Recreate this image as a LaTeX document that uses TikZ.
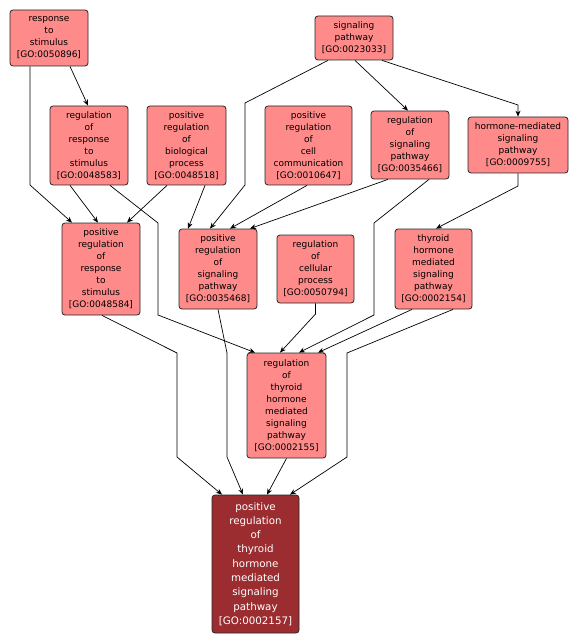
\documentclass[tikz,border=0pt]{standalone}
\usepackage{fontspec}
\setmainfont{DejaVu Sans}
\usetikzlibrary{arrows.meta,calc}
\definecolor{lightgo}{RGB}{255,138,138}
\definecolor{darkgo}{RGB}{155,45,48}
\begin{document}
\begin{tikzpicture}[x=1pt,y=-1pt,
  gonode/.style={draw=black!85,line width=0.8pt,rounded corners=3pt,fill=lightgo,
    inner sep=0pt,align=center,font=\fontsize{9}{12}\selectfont,text=black},
  gohit/.style={gonode,fill=darkgo,text=white,font=\fontsize{10.3}{14.3}\selectfont},
  edge/.style={draw=black,line width=0.7pt,-{Stealth[length=6pt,width=5pt,inset=2pt]}}]
\useasboundingbox (0,0) rectangle (579,644);
\fill[white] (0,0) rectangle (579,644);
% nodes
\node[gonode,minimum width=78pt,minimum height=56pt] (rs) at (49,38) {response\\to\\stimulus\\{[GO:0050896]}};
\node[gonode,minimum width=78pt,minimum height=44pt] (sp) at (354,38) {signaling\\pathway\\{[GO:0023033]}};
\node[gonode,minimum width=78pt,minimum height=79pt] (rrs) at (89,145.5) {regulation\\of\\response\\to\\stimulus\\{[GO:0048583]}};
\node[gonode,minimum width=79pt,minimum height=79pt] (prbp) at (186.5,145.5) {positive\\regulation\\of\\biological\\process\\{[GO:0048518]}};
\node[gonode,minimum width=87pt,minimum height=79pt] (prcc) at (308.5,145.5) {positive\\regulation\\of\\cell\\communication\\{[GO:0010647]}};
\node[gonode,minimum width=78pt,minimum height=68pt] (rsp) at (410,145) {regulation\\of\\signaling\\pathway\\{[GO:0035466]}};
\node[gonode,minimum width=100pt,minimum height=56pt] (hmsp) at (518,145) {hormone-mediated\\signaling\\pathway\\{[GO:0009755]}};
\node[gonode,minimum width=78pt,minimum height=92pt] (prrs) at (101,269) {positive\\regulation\\of\\response\\to\\stimulus\\{[GO:0048584]}};
\node[gonode,minimum width=78pt,minimum height=80pt] (prsp) at (218,269) {positive\\regulation\\of\\signaling\\pathway\\{[GO:0035468]}};
\node[gonode,minimum width=77pt,minimum height=68pt] (rcp) at (315.5,269) {regulation\\of\\cellular\\process\\{[GO:0050794]}};
\node[gonode,minimum width=77pt,minimum height=80pt] (thmsp) at (433.5,269) {thyroid\\hormone\\mediated\\signaling\\pathway\\{[GO:0002154]}};
\node[gonode,minimum width=79pt,minimum height=105pt] (rthmsp) at (286.5,405.5) {regulation\\of\\thyroid\\hormone\\mediated\\signaling\\pathway\\{[GO:0002155]}};
\node[gohit,minimum width=87pt,minimum height=138pt] (prthmsp) at (255.5,564) {positive\\regulation\\of\\thyroid\\hormone\\mediated\\signaling\\pathway\\{[GO:0002157]}};
% edges
\draw[edge] ($(rs.south)+(21,0)$) -- ($(rrs.north)+(-1,0)$);
\draw[edge] ($(rs.south)+(-19,0)$) -- (30,185) -- ($(prrs.north)+(-29,0)$);
\draw[edge] ($(rrs.south)+(-19,0)$) -- ($(prrs.north)+(-3,0)$);
\draw[edge] ($(prbp.south)+(-19.5,0)$) -- ($(prrs.north)+(26,0)$);
\draw[edge] ($(rrs.south)+(21,0)$) -- (158,223) -- (158,315) -- ($(rthmsp.north)+(-31.5,0)$);
\draw[edge] ($(prbp.south)+(18.5,0)$) -- ($(prsp.north)+(-30,0)$);
\draw[edge] ($(sp.south)+(-26,0)$) -- (245,103) -- (245,185) -- ($(prsp.north)+(-8,0)$);
\draw[edge] ($(prcc.south)+(-1.5,0)$) -- ($(prsp.north)+(12,0)$);
\draw[edge] ($(rsp.south)+(-22,0)$) -- ($(prsp.north)+(32,0)$);
\draw[edge] ($(sp.south)+(1,0)$) -- ($(rsp.north)+(-2,0)$);
\draw[edge] ($(sp.south)+(28,0)$) -- (518,105) -- (hmsp.north);
\draw[edge] (hmsp.south) -- (518,186) -- ($(thmsp.north)+(2.5,0)$);
\draw[edge] ($(rsp.south)+(19,0)$) -- (374,223) -- (374,315) -- ($(rthmsp.north)+(12.5,0)$);
\draw[edge] (rcp.south) -- (315.5,314) -- ($(rthmsp.north)+(-6.5,0)$);
\draw[edge] ($(thmsp.south)+(-21.5,0)$) -- ($(rthmsp.north)+(31.5,0)$);
\draw[edge] ($(thmsp.south)+(19.5,0)$) -- (347,353) -- (347,457) -- ($(prthmsp.north)+(34.5,0)$);
\draw[edge] ($(prrs.south)+(1,0)$) -- (177,353) -- (177,457) -- ($(prthmsp.north)+(-33.5,0)$);
\draw[edge] (prsp.south) -- (227,353) -- (227,457) -- ($(prthmsp.north)+(-12.5,0)$);
\draw[edge] (rthmsp.south) -- ($(prthmsp.north)+(11.5,0)$);
\end{tikzpicture}
\end{document}
